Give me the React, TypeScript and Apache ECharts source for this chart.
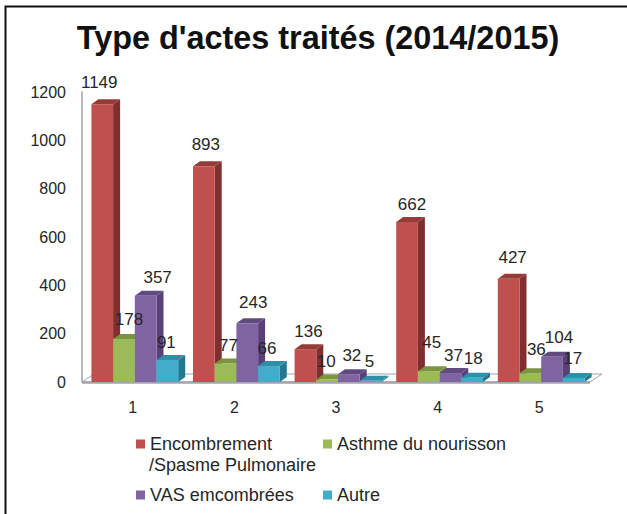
import React, { useEffect, useRef } from "react";
import * as echarts from "echarts";

const categories = ["1", "2", "3", "4", "5"];
const seriesNames = ["Encombrement /Spasme Pulmonaire", "Asthme du nourisson", "VAS emcombrées", "Autre"];
const encombrement = [1149, 893, 136, 662, 427];
const asthme = [178, 77, 10, 45, 36];
const vas = [357, 243, 32, 37, 104];
const autre = [91, 66, 5, 18, 17];
const allValues = [encombrement, asthme, vas, autre];
const yTicks = { min: 0, max: 1200, interval: 200 };

// style tables
const faces = [
  { front: "#C0504D", side: "#7F2F2E", top: "#953B38" },
  { front: "#9BBB59", side: "#6F8A3A", top: "#7A9440" },
  { front: "#8064A2", side: "#5A4078", top: "#614A80" },
  { front: "#43ACCB", side: "#22788F", top: "#2F8FA8" },
];
const labelNudge = [
  [[-3, -22], [2, -22], [3, -18], [5, -18], [4, -21]],
  [[5, -19], [3, -18], [-1, -18], [3, -29], [6, -24]],
  [[12, -18], [6, -21], [3, -19], [3, -18], [7, -19]],
  [[-1, -18], [-2, -18], [-1, -19], [1, -19], [-1, -19]],
];
const FONT = "Liberation Sans";
const INK = "#262626";
const DEPTH_X = 7;
const DEPTH_Y = 5;
const BAR_FRAC = 0.2136;
const GROUP_SHIFT = 2;

const makeBarRender = (s: number) => (params: any, api: any) => {
  const c = api.value(0);
  const v = api.value(1);
  const [cx, top] = api.coord([c, v]);
  const [, base] = api.coord([c, 0]);
  const w = api.size([1, 0])[0] * BAR_FRAC;
  const x0 = cx + GROUP_SHIFT + (s - 2) * w;
  const x1 = x0 + w;
  const f = faces[s];
  const [nx, ny] = labelNudge[s][c];
  return {
    type: "group",
    children: [
      {
        type: "polygon",
        shape: { points: [[x1, top], [x1 + DEPTH_X, top - DEPTH_Y], [x1 + DEPTH_X, base - DEPTH_Y], [x1, base]] },
        style: { fill: f.side },
      },
      {
        type: "polygon",
        shape: { points: [[x0, top], [x0 + DEPTH_X, top - DEPTH_Y], [x1 + DEPTH_X, top - DEPTH_Y], [x1, top]] },
        style: { fill: f.top },
      },
      { type: "rect", shape: { x: x0, y: top, width: w, height: base - top }, style: { fill: f.front } },
      {
        type: "text",
        z2: 100,
        style: {
          text: String(v),
          x: x0 + w / 2 + nx,
          y: top + ny,
          align: "center",
          verticalAlign: "middle",
          fill: INK,
          font: `17px "${FONT}"`,
        },
      },
    ],
  };
};

const renderFloor = (params: any) => {
  const { x, y, width, height } = params.coordSys;
  const b = y + height;
  const r = x + width;
  return {
    type: "group",
    children: [
      {
        type: "polygon",
        shape: { points: [[x, b], [r, b], [r + 12, b - 8], [x + 12, b - 8]] },
        style: { fill: "#FFFFFF", stroke: "#A3A3AB", lineWidth: 1 },
      },
      { type: "line", shape: { x1: x, y1: b + 0.5, x2: r, y2: b + 0.5 }, style: { stroke: "#A3A3AB", lineWidth: 2.5 } },
    ],
  };
};

const legendSpots = [
  { left: 136, top: 433.5 },
  { left: 323, top: 433.5 },
  { left: 136, top: 484.5 },
  { left: 323, top: 484.5 },
];

export default function App() {
  const ref = useRef<HTMLDivElement>(null);
  useEffect(() => {
    const chart = echarts.init(ref.current!, null, { renderer: "svg" });
    chart.setOption({
      animation: false,
      backgroundColor: "#FFFFFF",
      title: {
        text: "Type d'actes traités (2014/2015)",
        left: 313,
        top: 17,
        textAlign: "center",
        textStyle: { fontFamily: FONT, fontWeight: "bold", fontSize: 32.4, color: "#111111" },
      },
      grid: { left: 82, right: 37, top: 92, bottom: 132 },
      xAxis: {
        type: "category",
        data: categories,
        axisLine: { show: false },
        axisTick: { show: false },
        axisLabel: { fontFamily: FONT, fontSize: 16, color: INK, margin: 17 },
      },
      yAxis: {
        type: "value",
        min: yTicks.min,
        max: yTicks.max,
        interval: yTicks.interval,
        splitLine: { show: false },
        axisTick: { show: false },
        axisLine: { show: true, lineStyle: { color: "#A3A3AB", width: 1.5 } },
        axisLabel: { fontFamily: FONT, fontSize: 16, color: INK, margin: 16, formatter: (v: number) => String(v) },
      },
      legend: seriesNames.map((name, i) => ({
        data: [name],
        icon: "rect",
        left: legendSpots[i].left,
        top: legendSpots[i].top,
        itemWidth: 9,
        itemHeight: 9,
        padding: 0,
        selectedMode: false,
        formatter: (n: string) => n.split(" /")[0],
        textStyle: { fontFamily: FONT, fontSize: 18, color: INK, lineHeight: 21 },
      })),
      graphic: [
        {
          type: "polyline",
          silent: true,
          shape: { points: [[5.5, 514], [5.5, 6.5], [627, 6.5]] },
          style: { stroke: "#111111", lineWidth: 2, fill: "none" },
        },
        {
          type: "text",
          silent: true,
          x: 149,
          y: 465,
          style: {
            text: "/" + seriesNames[0].split(" /")[1],
            fill: INK,
            font: `18px "${FONT}"`,
            verticalAlign: "middle",
          },
        },
      ],
      series: [
        {
          type: "custom",
          name: "floor",
          data: [[0, 0]],
          encode: { x: 0, y: 1 },
          renderItem: renderFloor,
          silent: true,
        },
        ...allValues.map((vals, s) => ({
          type: "custom",
          name: seriesNames[s],
          data: vals.map((v, i) => [i, v]),
          encode: { x: 0, y: 1 },
          itemStyle: { color: faces[s].front },
          renderItem: makeBarRender(s),
          silent: true,
        })),
      ],
    });
    return () => chart.dispose();
  }, []);
  return <div ref={ref} style={{ position: "absolute", left: 0, top: 0, width: 627, height: 514 }} />;
}
